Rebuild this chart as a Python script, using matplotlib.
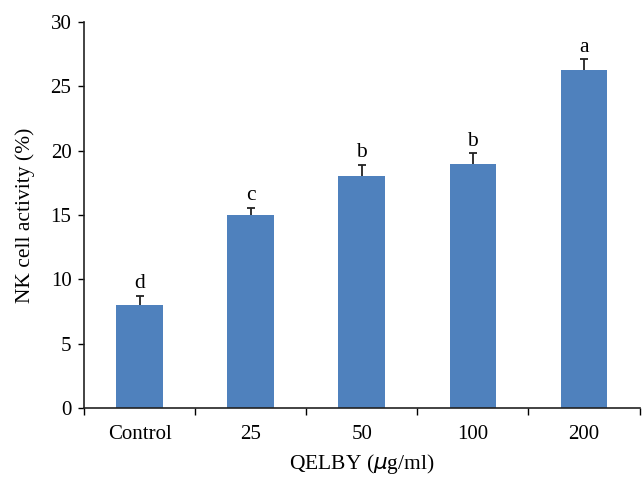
import matplotlib
matplotlib.use("Agg")
import matplotlib.pyplot as plt
import numpy as np

categories = ["Control", "25", "50", "100", "200"]
values = [8.0, 15.0, 18.0, 19.0, 26.3]
errors = [0.75, 0.55, 0.9, 0.8, 0.8]
letters = ["d", "c", "b", "b", "a"]

plt.rcParams['font.family'] = ['Liberation Serif', 'DejaVu Serif']

fig = plt.figure(figsize=(6.43, 4.90), dpi=100)
ax = fig.add_axes([0.1306, 0.167, 0.864, 0.788])

x = np.arange(len(categories))
ax.bar(x, values, width=0.42, color="#4F81BD", zorder=2)
eb = ax.errorbar(x, values, yerr=[np.zeros(len(errors)), errors], fmt="none",
                 ecolor="#222222", elinewidth=1.3, capsize=2.8, capthick=1.3, zorder=3)
caplines = eb[1]
if len(caplines) >= 2:
    caplines[0].set_visible(False)
for xi, v, e, l in zip(x, values, errors, letters):
    ax.text(xi, v + e + 0.2, l, ha="center", va="bottom", fontsize=15.5)

ax.set_xlim(-0.5, len(categories) - 0.5)
ax.set_ylim(0, 30)
ax.set_yticks(np.arange(0, 31, 5))
ax.set_xticks(x)
ax.set_xticklabels(categories)
ax.set_xticks(np.arange(-0.5, len(categories), 1), minor=True)
ax.tick_params(axis="x", which="major", length=0, pad=12, labelsize=15)
ax.tick_params(axis="x", which="minor", length=5, width=1, direction="out")
ax.tick_params(axis="y", length=4, width=1, direction="out", labelsize=15, pad=5)

for s in ["top", "right"]:
    ax.spines[s].set_visible(False)
for s in ["left", "bottom"]:
    ax.spines[s].set_linewidth(1.2)
    ax.spines[s].set_color("#222222")

ax.set_ylabel("NK cell activity (%)", fontsize=15.5, labelpad=11)
ax.set_xlabel("QELBY ($\\mathit{\\mu}$g/ml)", fontsize=15.5, labelpad=6)

fig.savefig("out.png", dpi=100)
